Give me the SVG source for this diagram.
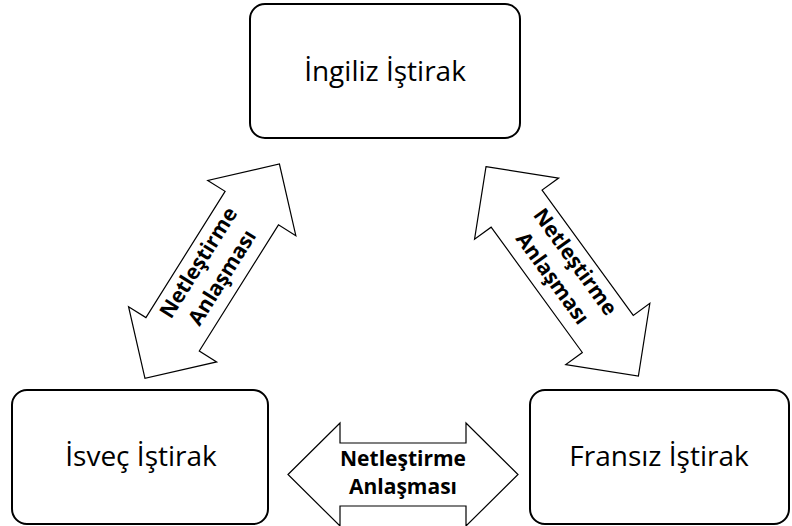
<svg xmlns="http://www.w3.org/2000/svg" width="792" height="526" viewBox="0 0 792 526">
  <style>
    .box { fill: #ffffff; stroke: #000000; stroke-width: 2; }
    .label { font-family: "Open Sans", "Noto Sans", "Liberation Sans", sans-serif; font-size: 28px; fill: #000000; text-anchor: middle; }
    .arrow { fill: #ffffff; stroke: #000000; stroke-width: 1.2; stroke-linejoin: miter; }
    .alabel { font-family: "Open Sans", "Noto Sans", "Liberation Sans", sans-serif; font-size: 21px; font-weight: bold; fill: #000000; text-anchor: middle; }
  </style>
  <rect width="792" height="526" fill="#ffffff"/>

  <!-- double-headed block arrows between the subsidiaries -->
  <g id="connectors">
    <g id="arrow-uk-se" transform="translate(212.2 271.2) rotate(-57.9)">
      <path class="arrow" d="M -126.5 0 L -74.5 -52 L -74.5 -31.5 L 74.5 -31.5 L 74.5 -52 L 126.5 0 L 74.5 52 L 74.5 31.5 L -74.5 31.5 L -74.5 52 Z"/>
      <text class="alabel" x="0" y="-9">Netleştirme</text>
      <text class="alabel" x="0" y="19">Anlaşması</text>
    </g>
    <g id="arrow-uk-fr" transform="translate(562.2 271.3) rotate(53.96)">
      <path class="arrow" d="M -129.5 0 L -77.5 -52 L -77.5 -31.5 L 77.5 -31.5 L 77.5 -52 L 129.5 0 L 77.5 52 L 77.5 31.5 L -77.5 31.5 L -77.5 52 Z"/>
      <text class="alabel" x="0" y="-9">Netleştirme</text>
      <text class="alabel" x="0" y="19">Anlaşması</text>
    </g>
    <g id="arrow-se-fr" transform="translate(403 474.5)">
      <path class="arrow" d="M -115 0 L -63 -51.5 L -63 -31.5 L 63 -31.5 L 63 -51.5 L 115 0 L 63 51.5 L 63 31.5 L -63 31.5 L -63 51.5 Z"/>
      <text class="alabel" x="0" y="-9">Netleştirme</text>
      <text class="alabel" x="0" y="19">Anlaşması</text>
    </g>
  </g>

  <g id="node-uk">
    <rect class="box" x="250" y="4" width="270" height="134" rx="15" ry="15"/>
    <text class="label" x="385" y="81">İngiliz İştirak</text>
  </g>

  <g id="node-se">
    <rect class="box" x="12" y="390" width="256" height="134" rx="15" ry="15"/>
    <text class="label" x="141" y="466">İsveç İştirak</text>
  </g>

  <g id="node-fr">
    <rect class="box" x="530" y="390" width="259" height="134" rx="15" ry="15"/>
    <text class="label" x="659" y="466">Fransız İştirak</text>
  </g>
</svg>
